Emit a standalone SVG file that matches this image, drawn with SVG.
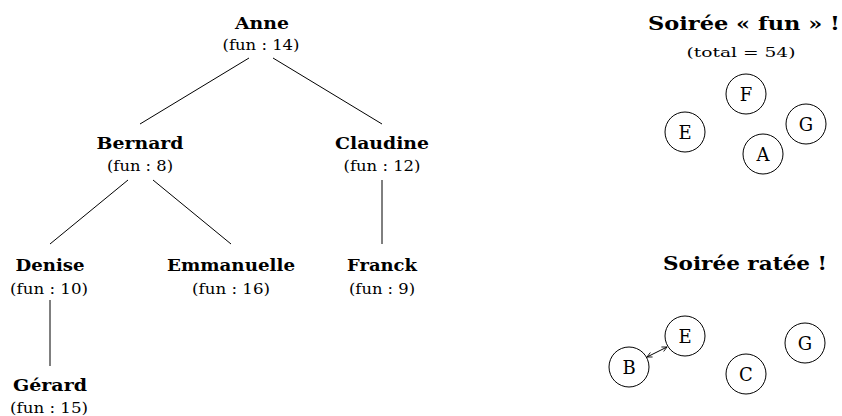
<svg xmlns="http://www.w3.org/2000/svg" width="842" height="416" viewBox="0 0 842 416">
<style>
.n{font-family:"DejaVu Serif",serif;font-weight:bold;font-size:17px;text-anchor:middle;fill:#000}
.h{font-family:"DejaVu Serif",serif;font-weight:bold;font-size:18.5px;text-anchor:middle;fill:#000}
.f{font-family:"DejaVu Serif",serif;font-size:14.5px;text-anchor:middle;fill:#000}
.t{font-family:"DejaVu Serif",serif;font-size:13px;text-anchor:middle;fill:#000}
.c{fill:#fff;stroke:#000;stroke-width:1}
.l{font-family:"DejaVu Serif",serif;font-size:18px;text-anchor:middle;fill:#000}
.e{stroke:#000;stroke-width:1;fill:none}
</style>
<defs>
<marker id="ah" viewBox="0 0 6 6" refX="5.5" refY="3" markerWidth="6" markerHeight="6" markerUnits="userSpaceOnUse" orient="auto-start-reverse">
<path d="M0.5,0.5 L5.5,3 L0.5,5.5" fill="none" stroke="#000" stroke-width="0.8"/>
</marker>
</defs>
<rect width="842" height="416" fill="#fff"/>
<g id="connectors">
<line class="e" x1="249" y1="58" x2="140" y2="124"/>
<line class="e" x1="273" y1="58" x2="382" y2="124"/>
<line class="e" x1="128" y1="180" x2="50" y2="244"/>
<line class="e" x1="153" y1="180" x2="231" y2="244"/>
<line class="e" x1="382" y1="180" x2="382" y2="244"/>
<line class="e" x1="50" y1="300" x2="50" y2="366"/>
<line class="e" x1="647" y1="357" x2="667" y2="347" marker-start="url(#ah)" marker-end="url(#ah)"/>
</g>
<g id="anne"><text class="n" x="262" y="29" textLength="54" lengthAdjust="spacingAndGlyphs">Anne</text><text class="f" x="261" y="50" textLength="77" lengthAdjust="spacingAndGlyphs">(fun : 14)</text></g>
<g id="bernard"><text class="n" x="140" y="149" textLength="87" lengthAdjust="spacingAndGlyphs">Bernard</text><text class="f" x="140" y="171" textLength="66" lengthAdjust="spacingAndGlyphs">(fun : 8)</text></g>
<g id="claudine"><text class="n" x="382" y="149" textLength="94" lengthAdjust="spacingAndGlyphs">Claudine</text><text class="f" x="382" y="171" textLength="77" lengthAdjust="spacingAndGlyphs">(fun : 12)</text></g>
<g id="denise"><text class="n" x="50" y="271" textLength="69" lengthAdjust="spacingAndGlyphs">Denise</text><text class="f" x="49" y="294" textLength="78" lengthAdjust="spacingAndGlyphs">(fun : 10)</text></g>
<g id="emmanuelle"><text class="n" x="231" y="271" textLength="128" lengthAdjust="spacingAndGlyphs">Emmanuelle</text><text class="f" x="231" y="294" textLength="78" lengthAdjust="spacingAndGlyphs">(fun : 16)</text></g>
<g id="franck"><text class="n" x="382" y="271" textLength="70" lengthAdjust="spacingAndGlyphs">Franck</text><text class="f" x="382" y="294" textLength="66" lengthAdjust="spacingAndGlyphs">(fun : 9)</text></g>
<g id="gerard"><text class="n" x="50" y="391" textLength="74" lengthAdjust="spacingAndGlyphs">Gérard</text><text class="f" x="49" y="413" textLength="78" lengthAdjust="spacingAndGlyphs">(fun : 15)</text></g>
<g id="titre-fun"><text class="h" x="744" y="30" textLength="192" lengthAdjust="spacingAndGlyphs">Soirée « fun » !</text><text class="t" x="741" y="57" textLength="109" lengthAdjust="spacingAndGlyphs">(total = 54)</text></g>
<g id="fun-F"><circle class="c" cx="746" cy="94" r="20"/><text class="l" x="746" y="100.5">F</text></g>
<g id="fun-E"><circle class="c" cx="685" cy="132" r="20"/><text class="l" x="685" y="138.5">E</text></g>
<g id="fun-G"><circle class="c" cx="806" cy="124" r="20"/><text class="l" x="806" y="130.5">G</text></g>
<g id="fun-A"><circle class="c" cx="763" cy="154" r="20"/><text class="l" x="763" y="160.5">A</text></g>
<g id="titre-ratee"><text class="h" x="745" y="270" textLength="164" lengthAdjust="spacingAndGlyphs">Soirée ratée !</text></g>
<g id="ratee-E"><circle class="c" cx="685" cy="336" r="20"/><text class="l" x="685" y="342.5">E</text></g>
<g id="ratee-B"><circle class="c" cx="629" cy="367" r="20"/><text class="l" x="629" y="373.5">B</text></g>
<g id="ratee-C"><circle class="c" cx="746" cy="374" r="20"/><text class="l" x="746" y="380.5">C</text></g>
<g id="ratee-G"><circle class="c" cx="805" cy="343" r="20"/><text class="l" x="805" y="349.5">G</text></g>
</svg>
